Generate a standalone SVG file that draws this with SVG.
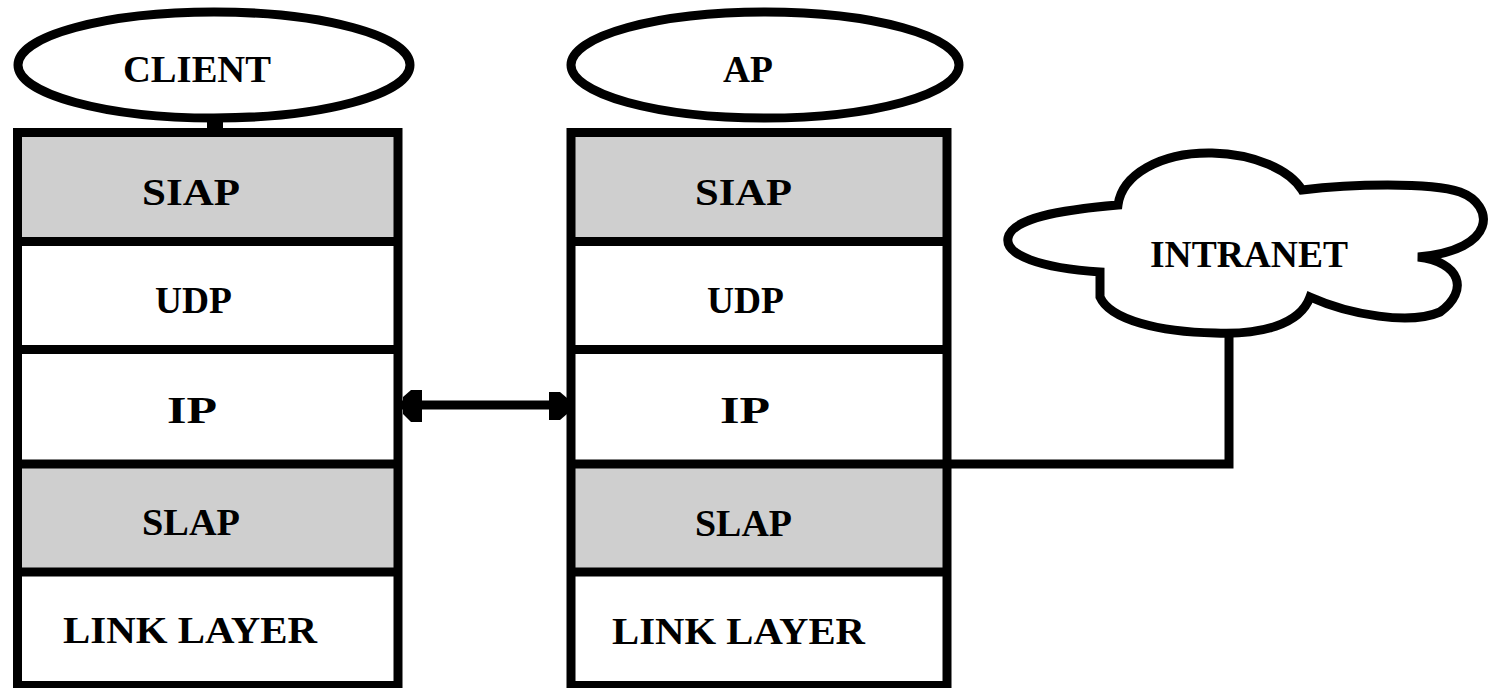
<svg xmlns="http://www.w3.org/2000/svg" width="1495" height="688" viewBox="0 0 1495 688">
<style>
.sh{stroke:#000;stroke-width:9;fill:#fff}
.gr{fill:#cfcfcf;stroke:none}
.ln{stroke:#000;stroke-width:9;fill:none}
.t{font-family:"Liberation Serif","DejaVu Serif",serif;font-weight:bold;font-size:37px;fill:#000}
</style>
<rect width="1495" height="688" fill="#fff"/>
<g id="client-label">
<line class="ln" x1="215" y1="118" x2="215" y2="132" style="stroke-width:16"/>
<ellipse class="sh" cx="214" cy="65" rx="196" ry="53"/>
<text class="t" x="123" y="82" textLength="148" lengthAdjust="spacingAndGlyphs">CLIENT</text>
</g>
<g id="client-stack">
<rect class="gr" x="17" y="132" width="381" height="110"/>
<rect class="gr" x="17" y="464" width="381" height="108"/>
<rect class="ln" x="17.5" y="132.5" width="380.5" height="553"/>
<line class="ln" x1="17" y1="241.5" x2="398" y2="241.5"/>
<line class="ln" x1="17" y1="349.5" x2="398" y2="349.5"/>
<line class="ln" x1="17" y1="464" x2="398" y2="464"/>
<line class="ln" x1="17" y1="572" x2="398" y2="572"/>
<text class="t" x="142" y="205" textLength="98" lengthAdjust="spacingAndGlyphs">SIAP</text>
<text class="t" x="155" y="313" textLength="77" lengthAdjust="spacingAndGlyphs">UDP</text>
<text class="t" x="167" y="423" textLength="50" lengthAdjust="spacingAndGlyphs">IP</text>
<text class="t" x="142" y="535" textLength="98" lengthAdjust="spacingAndGlyphs">SLAP</text>
<text class="t" x="63" y="643" textLength="254" lengthAdjust="spacingAndGlyphs">LINK LAYER</text>
</g>
<g id="ap-label">
<ellipse class="sh" cx="765" cy="65" rx="194" ry="53"/>
<text class="t" x="723" y="82" textLength="50" lengthAdjust="spacingAndGlyphs">AP</text>
</g>
<g id="ap-stack">
<rect class="gr" x="571" y="132" width="376" height="110"/>
<rect class="gr" x="571" y="464" width="376" height="108"/>
<rect class="ln" x="571" y="132.5" width="376" height="553"/>
<line class="ln" x1="571" y1="241.5" x2="947" y2="241.5"/>
<line class="ln" x1="571" y1="349.5" x2="947" y2="349.5"/>
<line class="ln" x1="571" y1="464" x2="947" y2="464"/>
<line class="ln" x1="571" y1="572" x2="947" y2="572"/>
<text class="t" x="695" y="205" textLength="97" lengthAdjust="spacingAndGlyphs">SIAP</text>
<text class="t" x="707" y="313" textLength="77" lengthAdjust="spacingAndGlyphs">UDP</text>
<text class="t" x="720" y="423" textLength="50" lengthAdjust="spacingAndGlyphs">IP</text>
<text class="t" x="695" y="536" textLength="97" lengthAdjust="spacingAndGlyphs">SLAP</text>
<text class="t" x="612" y="644" textLength="253" lengthAdjust="spacingAndGlyphs">LINK LAYER</text>
</g>
<g id="intranet">
<path class="sh" d="M1100,272 C1040,268 1005,255 1008,238 C1012,218 1060,210 1118,205 C1122,175 1160,152 1212,153 C1255,154 1290,170 1302,190 C1350,184 1430,182 1460,192 C1495,205 1498,250 1418,257 C1460,262 1470,290 1440,312 C1410,325 1350,315 1310,297 C1300,325 1260,335 1215,333 C1160,332 1110,320 1100,297 Z"/>
<text class="t" x="1150" y="267" textLength="198" lengthAdjust="spacingAndGlyphs">INTRANET</text>
</g>
<g id="connectors">
<line class="ln" x1="402" y1="405" x2="567" y2="405"/>
<polygon points="403,397 411,390 422,390 422,422 411,422 403,414" fill="#000"/>
<polygon points="567,398 560,392 549,392 549,420 560,420 567,414" fill="#000"/>
<polyline class="ln" points="947,464 1229,464 1229,333"/>
</g>
</svg>
